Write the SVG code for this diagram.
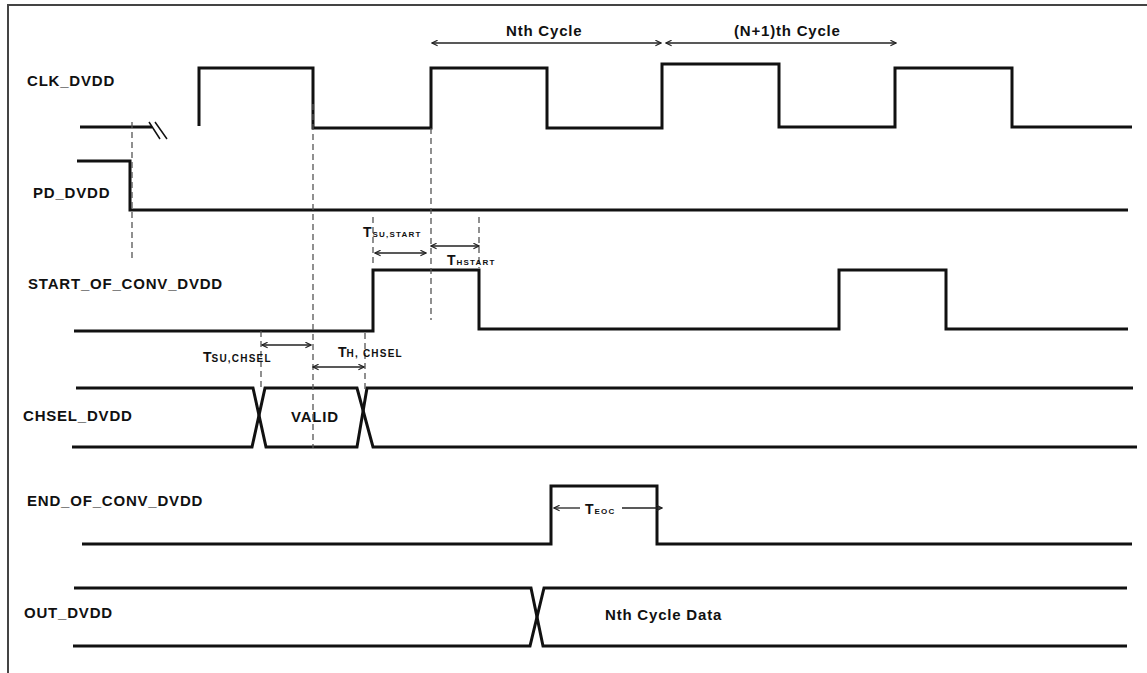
<svg xmlns="http://www.w3.org/2000/svg" width="1147" height="673" viewBox="0 0 1147 673">
<style>
.sig{fill:none;stroke:#111;stroke-width:3;stroke-linejoin:miter}
.dash{fill:none;stroke:#555;stroke-width:1.3;stroke-dasharray:6 4}
.arr{fill:none;stroke:#222;stroke-width:1.3;marker-start:url(#ah);marker-end:url(#ah)}
.lbl{font-family:"Liberation Sans",Arial,sans-serif;font-weight:bold;font-size:15px;letter-spacing:0.8px;fill:#111}
.t{font-family:"Liberation Sans",Arial,sans-serif;font-weight:bold;font-size:14px;fill:#111}
.sub{font-size:8px;letter-spacing:1.2px}
.sub2{font-size:10px;letter-spacing:1.2px}
</style>
<defs>
<marker id="ah" viewBox="0 0 10 10" refX="9" refY="5" markerWidth="7" markerHeight="7" orient="auto-start-reverse" markerUnits="userSpaceOnUse">
<path d="M1,1 L9,5 L1,9" fill="none" stroke="#222" stroke-width="1.6"/>
</marker>
</defs>
<rect width="1147" height="673" fill="#fff"/>
<path d="M8,673 L8,5 L1147,5" fill="none" stroke="#444" stroke-width="2"/>

<g id="clk">
<text class="lbl" x="27" y="86">CLK_DVDD</text>
<path class="sig" d="M80,127 L152,127"/>
<path class="sig" stroke-width="1.5" d="M149,122 L160,139 M155,122 L167,139" style="stroke-width:1.5"/>
<path class="sig" d="M199,126 L199,68 L313,68 L313,128 L431,128 L431,68 L547,68 L547,128 L662,128 L662,64 L779,64 L779,127 L895,127 L895,68 L1012,68 L1012,127 L1132,127"/>
<text class="lbl" x="506" y="36">Nth Cycle</text>
<text class="lbl" x="734" y="36">(N+1)th Cycle</text>
</g>

<g id="pd">
<text class="lbl" x="33" y="198">PD_DVDD</text>
<path class="sig" d="M77,161 L130,161 L130,210 L1128,210"/>
</g>

<g id="start">
<text class="lbl" x="28" y="289">START_OF_CONV_DVDD</text>
<path class="sig" d="M74,331 L373,331 L373,270 L479,270 L479,329 L839,329 L839,270 L946,270 L946,329 L1128,329"/>
</g>

<g id="chsel">
<text class="lbl" x="23" y="421">CHSEL_DVDD</text>
<path class="sig" d="M76,388 L253,388 L266,447 L357,447 L367,388 L1133,388"/>
<path class="sig" d="M72,447 L252,447 L265,388 L357,388 L373,447 L1137,447"/>
<text class="lbl" x="291" y="422">VALID</text>
</g>

<g id="eoc">
<text class="lbl" x="27" y="506">END_OF_CONV_DVDD</text>
<path class="sig" d="M82,544 L551,544 L551,486 L657,486 L657,544 L1132,544"/>
</g>

<g id="out">
<text class="lbl" x="24" y="618">OUT_DVDD</text>
<path class="sig" d="M74,588 L531,588 L543,646 L1127,646"/>
<path class="sig" d="M73,646 L530,646 L544,588 L1127,588"/>
<text class="lbl" x="605" y="620">Nth Cycle Data</text>
</g>

<g id="connectors">
<path class="dash" d="M132,122 L132,258"/>
<path class="dash" d="M313,104 L313,448"/>
<path class="dash" d="M431,128 L431,320"/>
<path class="dash" d="M373,217 L373,266"/>
<path class="dash" d="M479,217 L479,268"/>
<path class="dash" d="M261,331 L261,390"/>
<path class="dash" d="M365,333 L365,390"/>
<line class="arr" x1="432" y1="43" x2="661" y2="43"/>
<line class="arr" x1="666" y1="43" x2="896" y2="43"/>
<line class="arr" x1="375" y1="253" x2="426" y2="253"/>
<line class="arr" x1="431" y1="246" x2="479" y2="246"/>
<line class="arr" x1="262" y1="345" x2="311" y2="345"/>
<line class="arr" x1="313" y1="367" x2="364" y2="367"/>
<line style="fill:none;stroke:#222;stroke-width:1.3;marker-start:url(#ah)" x1="554" y1="508" x2="580" y2="508"/>
<line style="fill:none;stroke:#222;stroke-width:1.3;marker-end:url(#ah)" x1="622" y1="508" x2="662" y2="508"/>
<text class="t" x="363" y="237">T<tspan class="sub" dx="1">SU,START</tspan></text>
<text class="t" x="447" y="265">T<tspan class="sub" dx="1">HSTART</tspan></text>
<text class="t" x="203" y="362">T<tspan class="sub2" dx="0">SU,CHSEL</tspan></text>
<text class="t" x="338" y="357">T<tspan class="sub2" dx="0">H, CHSEL</tspan></text>
<text class="t" x="585" y="514">T<tspan class="sub" dx="1">EOC</tspan></text>
</g>
</svg>
